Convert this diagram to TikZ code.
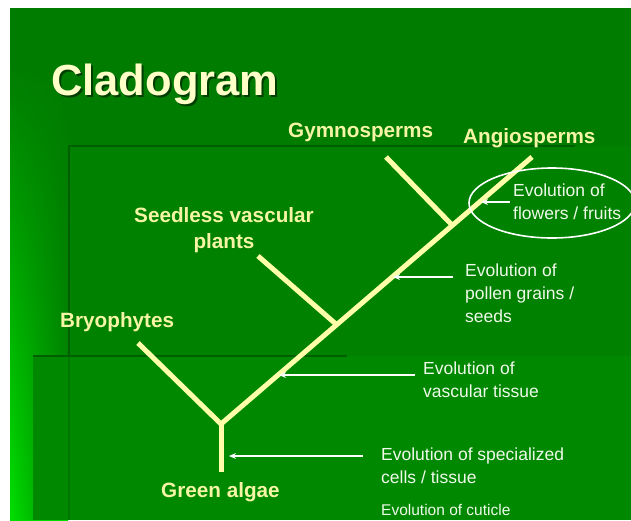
\documentclass[tikz,border=0pt]{standalone}
\usepackage{fontspec}
\setmainfont{Liberation Sans}
\usetikzlibrary{arrows.meta,shapes.geometric,fadings}
\definecolor{slidegreen}{RGB}{0,124,0}
\definecolor{panelgreen}{RGB}{0,129,0}
\definecolor{lowgreen}{RGB}{0,136,0}
\definecolor{edgegreen}{RGB}{0,95,0}
\definecolor{striptop}{RGB}{0,124,0}
\definecolor{stripbottom}{RGB}{0,222,0}
\definecolor{cream}{RGB}{255,255,170}
\definecolor{labelcream}{RGB}{245,245,165}
\definecolor{titlecream}{RGB}{255,255,200}
\definecolor{notewhite}{RGB}{240,250,235}
\tikzfading[name=stripfade, left color=transparent!100, right color=transparent!10]
\tikzset{
  branch/.style={draw=cream, line width=5pt},
  taxon/.style={text=labelcream, inner sep=0pt, anchor=base west, font=\fontsize{20.7}{24}\selectfont\bfseries},
  taxonc/.style={taxon, anchor=base},
  note/.style={text=notewhite, inner sep=0pt, anchor=base west, font=\fontsize{17.5}{21}\selectfont},
  smallnote/.style={note, font=\fontsize{15.5}{19}\selectfont},
  pointer/.style={draw=white, line width=1.8pt, -{Stealth[length=7pt,width=6pt]}},
}
\begin{document}
\begin{tikzpicture}[x=1pt,y=-1pt]
\useasboundingbox (0,0) rectangle (631,520);
\fill[white] (0,0) rectangle (631,520);
% slide background
\fill[slidegreen] (10,8) rectangle (631,520);
\shade[top color=striptop, bottom color=stripbottom] (10,60) rectangle (68,520);
\fill[slidegreen, path fading=stripfade] (10,60) rectangle (68,520);
% panels
\fill[panelgreen] (68,146) rectangle (631,520);
\draw[edgegreen, line width=1.5pt] (69,146) -- (69,520);
\draw[edgegreen, line width=1.5pt] (68,146) -- (575,146);
\fill[lowgreen] (33,356) rectangle (631,520);
\draw[edgegreen, line width=1.5pt] (33,356) -- (347,356);
\draw[edgegreen, opacity=0.4, line width=1.2pt] (69,356) -- (69,520);
% title
\node[inner sep=0pt, anchor=base west, text=black, opacity=0.5, font=\fontsize{43.5}{50}\selectfont\bfseries] (titleshadow) at (53,97) {Cladogram};
\node[inner sep=0pt, anchor=base west, text=titlecream, font=\fontsize{43.5}{50}\selectfont\bfseries] (title) at (51,95) {Cladogram};
% tree coordinates
\coordinate (root) at (221,472);
\coordinate (j1) at (221,424);
\coordinate (bryo) at (138,343);
\coordinate (j2) at (337,325);
\coordinate (seedless) at (258,256);
\coordinate (j3) at (452,225);
\coordinate (gymno) at (386,157);
\coordinate (angio) at (532,157);
% tree
\draw[branch] (root) -- (j1);
\draw[branch] (bryo) -- (j1);
\draw[branch] (j1) -- (angio);
\draw[branch] (seedless) -- (j2);
\draw[branch] (gymno) -- (j3);
% taxa
\node[taxon] (gymlabel) at (288,137) {Gymnosperms};
\node[taxon] (anglabel) at (463,143) {Angiosperms};
\node[taxonc] (seedl1) at (224,222) {Seedless vascular};
\node[taxonc] (seedl2) at (224,248) {plants};
\node[taxon] (bryolabel) at (60,327) {Bryophytes};
\node[taxon] (greenlabel) at (161,497) {Green algae};
% notes
\node[note] (fl1) at (513,196) {Evolution of};
\node[note] (fl2) at (513,219) {flowers / fruits};
\node[note] (po1) at (465,276) {Evolution of};
\node[note] (po2) at (465,299) {pollen grains /};
\node[note] (po3) at (465,322) {seeds};
\node[note] (va1) at (423,374) {Evolution of};
\node[note] (va2) at (423,397) {vascular tissue};
\node[note] (sp1) at (381,460) {Evolution of specialized};
\node[note] (sp2) at (381,483) {cells / tissue};
\node[smallnote] (cu1) at (381,515) {Evolution of cuticle};
% ellipse
\node[draw=white, line width=1.6pt, ellipse, minimum width=166pt, minimum height=70pt, inner sep=0pt] (flowring) at (552,203) {};
% arrow start/end coordinates
\coordinate (aflS) at (510,202);
\coordinate (aflE) at (481,202);
\coordinate (apoS) at (453,277);
\coordinate (apoE) at (393,277);
\coordinate (avaS) at (415,375);
\coordinate (avaE) at (279,375);
\coordinate (aspS) at (363,456);
\coordinate (aspE) at (229,456);
\draw[pointer] (aflS) -- (aflE);
\draw[pointer] (apoS) -- (apoE);
\draw[pointer] (avaS) -- (avaE);
\draw[pointer] (aspS) -- (aspE);
\end{tikzpicture}
\end{document}
